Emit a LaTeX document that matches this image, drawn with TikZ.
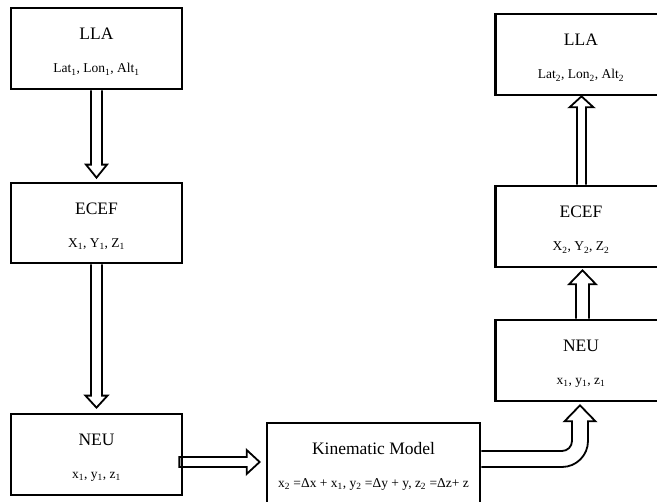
\documentclass[tikz,border=0pt]{standalone}
\usepackage{fontspec}
\setmainfont{Liberation Serif}
\usetikzlibrary{calc,backgrounds}

\tikzset{
  block/.style={draw, line width=2.7pt, rectangle, minimum width=171pt,
    minimum height=81pt, align=center, inner sep=0pt,
    font=\fontsize{17.5}{33}\selectfont},
  hollow/.style={draw, line width=1.8pt, fill=white, line join=miter},
}
% second line of a block, in a smaller size
\newcommand\subline[1]{{\fontsize{13.5}{33}\selectfont #1}}
% strut that lowers the two-line text a little inside its box
\newcommand\topstrut{\rule{0pt}{18pt}}

\begin{document}
\begin{tikzpicture}[x=1pt, y=-1pt]
\useasboundingbox (0,0) rectangle (657,502);

% left column
\node[block] (lla1)  at (96.5,48.5) {\topstrut LLA\\\subline{Lat\textsubscript{1}, Lon\textsubscript{1}, Alt\textsubscript{1}}};
\node[block, minimum height=80pt] (ecef1) at (96.5,223) {\topstrut ECEF\\\subline{X\textsubscript{1}, Y\textsubscript{1}, Z\textsubscript{1}}};
\node[block] (neu1)  at (96.5,454.5) {\topstrut NEU\\\subline{x\textsubscript{1}, y\textsubscript{1}, z\textsubscript{1}}};

% kinematic step
\node[block, minimum width=213pt] (kin) at (373.5,463.5)
  {\topstrut Kinematic Model\\\subline{x\textsubscript{2} =Δx + x\textsubscript{1}, y\textsubscript{2} =Δy + y, z\textsubscript{2} =Δz+ z}};

% right column
\node[block] (neu2)  at (581,360.5) {\topstrut NEU\\\subline{x\textsubscript{1}, y\textsubscript{1}, z\textsubscript{1}}};
\node[block] (ecef2) at (581,226.5) {\topstrut ECEF\\\subline{X\textsubscript{2}, Y\textsubscript{2}, Z\textsubscript{2}}};
\node[block] (lla2)  at (581,54.5) {\topstrut LLA\\\subline{Lat\textsubscript{2}, Lon\textsubscript{2}, Alt\textsubscript{2}}};

\begin{pgfonlayer}{background}
% LLA -> ECEF (down)
\draw[hollow] let \p1=(lla1.south), \p2=(ecef1.north) in
  (\x1-5.5pt,\y1) -- (\x1-5.5pt,\y2+17pt) -- (\x1-10.5pt,\y2+17pt) -- (\x1,\y2+4pt)
  -- (\x1+10.5pt,\y2+17pt) -- (\x1+5.5pt,\y2+17pt) -- (\x1+5.5pt,\y1);
% ECEF -> NEU (down)
\draw[hollow] let \p1=(ecef1.south), \p2=(neu1.north) in
  (\x1-5.5pt,\y1) -- (\x1-5.5pt,\y2+17pt) -- (\x1-11pt,\y2+17pt) -- (\x1,\y2+5pt)
  -- (\x1+11pt,\y2+17pt) -- (\x1+5.5pt,\y2+17pt) -- (\x1+5.5pt,\y1);
% NEU -> kinematic model (right)
\draw[hollow] let \p1=(neu1.east), \p2=(kin.west) in
  (\x1-4pt,\y1-2.5pt) -- (\x2-19pt,\y1-2.5pt) -- (\x2-19pt,\y1+4.5pt) -- (\x2-6pt,\y1-7.5pt)
  -- (\x2-19pt,\y1-19.5pt) -- (\x2-19pt,\y1-12.5pt) -- (\x1-4pt,\y1-12.5pt) -- cycle;
% kinematic model -> NEU (right, bending up)
\draw[hollow] let \p1=(kin.east), \p2=(neu2.south), \n1={\y1+4.5pt}, \n2={\x2-1pt} in
  (\x1,\n1+8pt) -- (\n2-18pt,\n1+8pt) arc[start angle=270, end angle=360, radius=10pt]
  -- (\n2-8pt,\y2-19pt) -- (\n2-15.5pt,\y2-19pt) -- (\n2,\y2-3pt) -- (\n2+15.5pt,\y2-19pt)
  -- (\n2+8pt,\y2-19pt) -- (\n2+8pt,\n1+18pt) arc[start angle=0, end angle=-90, radius=26pt]
  -- (\x1,\n1-8pt);
% NEU -> ECEF (up)
\draw[hollow] let \p1=(neu2.north), \p2=(ecef2.south), \n1={\x1+1.5pt} in
  (\n1-6.5pt,\y1) -- (\n1-6.5pt,\y2-16pt) -- (\n1-13.5pt,\y2-16pt) -- (\n1,\y2-2pt)
  -- (\n1+13.5pt,\y2-16pt) -- (\n1+6.5pt,\y2-16pt) -- (\n1+6.5pt,\y1);
% ECEF -> LLA (up)
\draw[hollow] let \p1=(ecef2.north), \p2=(lla2.south), \n1={\x1+0.5pt} in
  (\n1-4.5pt,\y1) -- (\n1-4.5pt,\y2-11pt) -- (\n1-12pt,\y2-11pt) -- (\n1,\y2)
  -- (\n1+12pt,\y2-11pt) -- (\n1+4.5pt,\y2-11pt) -- (\n1+4.5pt,\y1);
\end{pgfonlayer}
\end{tikzpicture}
\end{document}
